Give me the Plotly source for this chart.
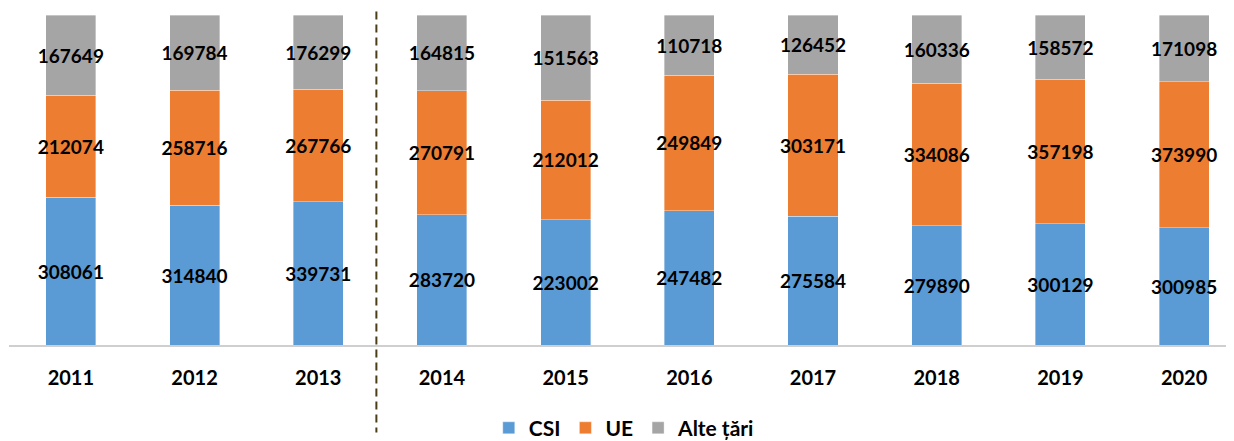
import plotly.graph_objects as go

years = ["2011", "2012", "2013", "2014", "2015", "2016", "2017", "2018", "2019", "2020"]
csi = [308061, 314840, 339731, 283720, 223002, 247482, 275584, 279890, 300129, 300985]
ue = [212074, 258716, 267766, 270791, 212012, 249849, 303171, 334086, 357198, 373990]
alte = [167649, 169784, 176299, 164815, 151563, 110718, 126452, 160336, 158572, 171098]

series = [("CSI", csi, "#5B9BD5"), ("UE", ue, "#ED7D31"), ("Alte țări", alte, "#A5A5A5")]

FONT = "Lato"

fig = go.Figure()
for name, vals, color in series:
    fig.add_trace(go.Bar(
        x=years, y=vals, name=name,
        marker=dict(color=color, line=dict(width=0.6, color="rgba(255,255,255,0.6)")),
        width=0.405,
        text=[str(v) for v in vals],
        textposition="inside",
        insidetextanchor="middle",
        textangle=0,
        textfont=dict(family=FONT, size=19, color="black", weight="bold"),
        hoverinfo="skip",
    ))

fig.add_shape(type="line", xref="x", yref="paper",
              x0=2.47, x1=2.47, y0=1.05, y1=-0.265,
              line=dict(color="#4b3d17", width=2, dash="8px,5px"), layer="above")

fig.update_layout(
    width=1234, height=441,
    barmode="stack", barnorm="percent",
    plot_bgcolor="white", paper_bgcolor="white",
    margin=dict(l=1, r=0, t=7, b=104),
    uniformtext=dict(minsize=19, mode="show"),
    showlegend=True,
    legend=dict(orientation="h", x=0.499, xanchor="center", y=-0.252, yanchor="middle",
                font=dict(family=FONT, size=21, color="black", weight="bold"),
                traceorder="normal", itemwidth=30),
    xaxis=dict(type="category", range=[-0.5, 9.468], showline=True, linecolor="#cfcfcf",
               linewidth=2, ticks="", showgrid=False, ticklabelstandoff=14,
               tickfont=dict(family=FONT, size=20, color="black", weight="bold")),
    yaxis=dict(range=[0, 100], visible=False, showgrid=False),
    font=dict(family=FONT),
)

fig.write_html("out.html")
